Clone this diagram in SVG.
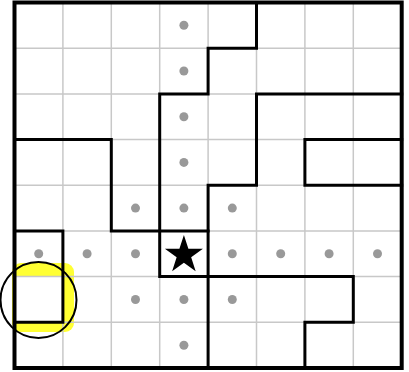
<svg xmlns="http://www.w3.org/2000/svg" width="409" height="372" viewBox="0 0 409 372">
<style>
.bg{fill:#ffffff}
.hl{fill:#ffff33}
.thin{stroke:#c8c8c8;stroke-width:1.5;fill:none}
.thick{stroke:#000;stroke-width:3;fill:none;stroke-linecap:square;stroke-linejoin:miter}
.outer{stroke:#000;stroke-width:4;fill:none}
.dot{fill:#999999}
.star{fill:#000}
.ring{fill:none;stroke:#000;stroke-width:2}
</style>
<rect class="bg" x="0" y="0" width="409" height="372"/>
<g id="highlight">
<rect class="hl" x="12" y="263" width="62" height="69" rx="9"/>
<rect class="bg" x="14.5" y="276.6" width="48.4" height="45.7"/>
</g>
<g id="grid">
<path class="thin" d="M62.9,2.5V368M111.3,2.5V368M159.7,2.5V368M208.1,2.5V368M256.5,2.5V368M304.9,2.5V368M353.3,2.5V368M14.5,48.2H401.7M14.5,93.9H401.7M14.5,139.6H401.7M14.5,185.3H401.7M14.5,230.9H401.7M14.5,276.6H401.7M14.5,322.3H401.7"/>
</g>
<g id="regions">
<path class="thick" d="M256.5,2.5V48.2H208.1V93.9H159.7V276.6H353.3V322.3H304.9V368"/>
<path class="thick" d="M14.5,139.6H111.3V230.9H208.1"/>
<path class="thick" d="M401.7,93.9H256.5V185.3H208.1V368"/>
<path class="thick" d="M401.7,139.6H304.9V185.3H401.7"/>
<path class="thick" d="M14.5,230.9H62.9V322.3H14.5"/>
<rect class="outer" x="14.5" y="2.5" width="387.2" height="365.5"/>
</g>
<g id="dots">
<circle class="dot" cx="183.9" cy="25.3" r="4.5"/>
<circle class="dot" cx="183.9" cy="71" r="4.5"/>
<circle class="dot" cx="183.9" cy="116.7" r="4.5"/>
<circle class="dot" cx="183.9" cy="162.4" r="4.5"/>
<circle class="dot" cx="135.5" cy="208.1" r="4.5"/>
<circle class="dot" cx="183.9" cy="208.1" r="4.5"/>
<circle class="dot" cx="232.3" cy="208.1" r="4.5"/>
<circle class="dot" cx="38.7" cy="253.8" r="4.5"/>
<circle class="dot" cx="87.1" cy="253.8" r="4.5"/>
<circle class="dot" cx="135.5" cy="253.8" r="4.5"/>
<circle class="dot" cx="232.3" cy="253.8" r="4.5"/>
<circle class="dot" cx="280.7" cy="253.8" r="4.5"/>
<circle class="dot" cx="329.1" cy="253.8" r="4.5"/>
<circle class="dot" cx="377.5" cy="253.8" r="4.5"/>
<circle class="dot" cx="135.5" cy="299.5" r="4.5"/>
<circle class="dot" cx="183.9" cy="299.5" r="4.5"/>
<circle class="dot" cx="232.3" cy="299.5" r="4.5"/>
<circle class="dot" cx="183.9" cy="345.2" r="4.5"/>
</g>
<g id="star">
<polygon class="star" transform="translate(183.9,255)" points="0,-20 4.49,-6.18 19.02,-6.18 7.27,2.36 11.76,16.18 0,7.64 -11.76,16.18 -7.27,2.36 -19.02,-6.18 -4.49,-6.18"/>
</g>
<g id="marker-circle">
<circle class="ring" cx="38.5" cy="300" r="38"/>
</g>
</svg>
